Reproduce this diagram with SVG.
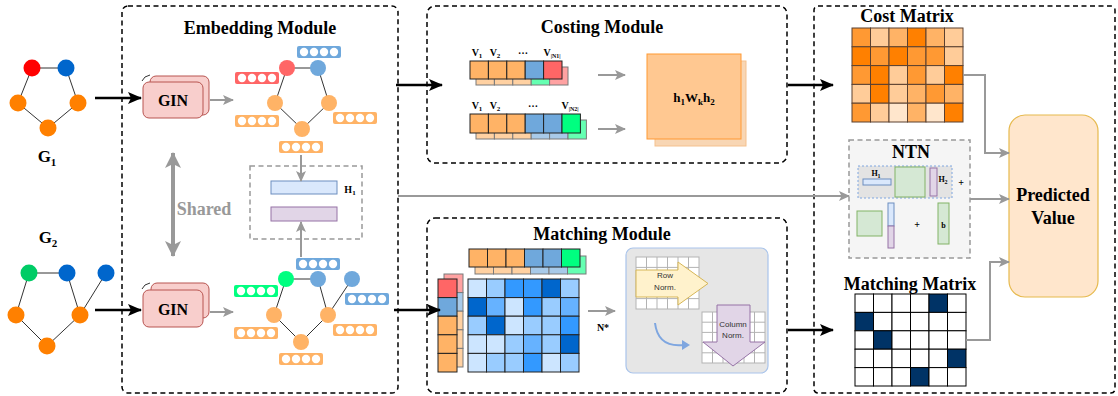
<svg xmlns="http://www.w3.org/2000/svg" xmlns:xlink="http://www.w3.org/1999/xlink" width="1118" height="396" viewBox="0 0 1118 396">
<style>
.mod{fill:none;stroke:#000;stroke-width:1.5;stroke-dasharray:5,3.5}
.title{font-family:"Liberation Serif",serif;font-weight:bold;font-size:18px;fill:#000;text-anchor:middle}
.lbl{font-family:"Liberation Serif",serif;font-weight:bold;fill:#000;text-anchor:middle}
.sans{font-family:"Liberation Sans",Arial,sans-serif;font-size:8px;fill:#333;text-anchor:middle}
.edge{stroke:#333;stroke-width:1}
.blk{stroke:#000;stroke-width:2.5;fill:none}
.gry{stroke:#999;stroke-width:2;fill:none}
.gin{fill:#f8cecc;stroke:#b85450;stroke-width:1}
.cell{stroke:#222;stroke-width:1}
.o1{fill:#ff8000}.o2{fill:#ff9933}.o3{fill:#ffb366}.o4{fill:#ffcc99}.o5{fill:#ffe6cc}
.b1{fill:#0066cc}.b2{fill:#3399ff}.b3{fill:#66b2ff}.b4{fill:#99ccff}.b5{fill:#cce5ff}
.vo{fill:#ffb366}.vb{fill:#6fa8dc}.vr{fill:#ff6666}.vg{fill:#00ff80}
.cm rect{stroke:#5a4030;stroke-width:1}
.mm rect{stroke:#000;stroke-width:1;fill:#fff}
.mm rect.d{fill:#003366}
.bm rect{stroke:#222;stroke-width:1}
.grid{fill:#fff;stroke:#b3b3b3;stroke-width:1}
.back{opacity:0.6}
</style>
<defs>
<marker id="ab" markerUnits="userSpaceOnUse" markerWidth="14" markerHeight="12" refX="13" refY="6" orient="auto">
<path d="M0,0 L14,6 L0,12 L3,6 z" fill="#000"/>
</marker>
<marker id="ag" markerUnits="userSpaceOnUse" markerWidth="11" markerHeight="10" refX="10" refY="5" orient="auto">
<path d="M0,0 L11,5 L0,10 L2.5,5 z" fill="#999"/>
</marker>
<marker id="as" markerUnits="userSpaceOnUse" markerWidth="16" markerHeight="16" refX="15" refY="8" orient="auto-start-reverse">
<path d="M0,0 L16,8 L0,16 L4,8 z" fill="#999"/>
</marker>
<g id="dots" fill="#fff">
<circle cx="7" cy="6" r="4.2"/><circle cx="17" cy="6" r="4.2"/><circle cx="27" cy="6" r="4.2"/><circle cx="37" cy="6" r="4.2"/>
</g>
</defs>

<!-- module frames -->
<g id="frames">
<rect class="mod" x="122" y="6" width="276" height="387" rx="6"/>
<rect class="mod" x="427" y="6" width="360" height="157" rx="8"/>
<rect class="mod" x="427" y="218" width="360" height="175" rx="8"/>
<rect class="mod" x="814" y="6" width="301" height="387" rx="4"/>
<text class="title" x="260" y="34">Embedding Module</text>
<text class="title" x="602" y="33">Costing Module</text>
<text class="title" x="602" y="240">Matching Module</text>
</g>

<!-- G1 -->
<g id="G1">
<path class="edge" d="M32,68 L66,68 M32,68 L18,103 M66,68 L78,103 M18,103 L48,128 M78,103 L48,128"/>
<circle cx="32" cy="68" r="8.5" fill="#ff0000"/>
<circle cx="66" cy="68" r="8.5" fill="#0066cc"/>
<circle cx="18" cy="103" r="8.5" fill="#ff8000"/>
<circle cx="78" cy="103" r="8.5" fill="#ff8000"/>
<circle cx="48" cy="128" r="8.5" fill="#ff8000"/>
<text class="lbl" x="47" y="162" font-size="17">G<tspan font-size="11" dy="4">1</tspan></text>
</g>

<!-- G2 -->
<g id="G2">
<path class="edge" d="M29,273 L67,273 M29,273 L16,315 M67,273 L80,315 M106,273 L80,315 M16,315 L47,346 M80,315 L47,346"/>
<circle cx="29" cy="273" r="8.5" fill="#00cc66"/>
<circle cx="67" cy="273" r="8.5" fill="#0066cc"/>
<circle cx="106" cy="273" r="8.5" fill="#0066cc"/>
<circle cx="16" cy="315" r="8.5" fill="#ff8000"/>
<circle cx="80" cy="315" r="8.5" fill="#ff8000"/>
<circle cx="47" cy="346" r="8.5" fill="#ff8000"/>
<text class="lbl" x="48" y="243" font-size="17">G<tspan font-size="11" dy="4">2</tspan></text>
</g>

<!-- GIN top -->
<g id="gin1">
<rect class="gin" x="150" y="76" width="59" height="39" rx="6"/>
<rect class="gin" x="143" y="82" width="60" height="36" rx="6"/>
<path d="M142,81 Q144,76 150,75" fill="none" stroke="#333" stroke-width="1"/>
<text class="lbl" x="173" y="106" font-size="16">GIN</text>
</g>
<!-- GIN bottom -->
<g id="gin2">
<rect class="gin" x="151" y="283" width="58" height="35" rx="6"/>
<rect class="gin" x="143" y="290" width="60" height="37" rx="6"/>
<path d="M142,289 Q144,284 150,283" fill="none" stroke="#333" stroke-width="1"/>
<text class="lbl" x="173" y="315" font-size="16">GIN</text>
</g>

<!-- embedded graph 1 -->
<g id="emb1">
<path class="edge" d="M287,68 L318,68 M287,68 L275,103 M318,68 L329,103 M275,103 L302,129 M329,103 L302,129"/>
<circle cx="287" cy="68" r="8" fill="#ff6666"/>
<circle cx="318" cy="68" r="8" fill="#6fa8dc"/>
<circle cx="275" cy="103" r="8" fill="#ffb366"/>
<circle cx="329" cy="103" r="8" fill="#ffb366"/>
<circle cx="302" cy="129" r="8" fill="#ffb366"/>
<rect class="vb" x="297" y="46" width="44" height="12" rx="2"/><use xlink:href="#dots" x="297" y="46"/>
<rect class="vr" x="235" y="72" width="44" height="12" rx="2"/><use xlink:href="#dots" x="235" y="72"/>
<rect class="vo" x="235" y="115" width="44" height="12" rx="2"/><use xlink:href="#dots" x="235" y="115"/>
<rect class="vo" x="333" y="112" width="44" height="12" rx="2"/><use xlink:href="#dots" x="333" y="112"/>
<rect class="vo" x="279" y="141" width="44" height="12" rx="2"/><use xlink:href="#dots" x="279" y="141"/>
</g>

<!-- embedded graph 2 -->
<g id="emb2">
<path class="edge" d="M286,279 L318,279 M286,279 L274,315 M318,279 L328,315 M352,279 L328,315 M274,315 L301,342 M328,315 L301,342"/>
<circle cx="286" cy="279" r="8" fill="#00ff80"/>
<circle cx="318" cy="279" r="8" fill="#6fa8dc"/>
<circle cx="352" cy="279" r="8" fill="#6fa8dc"/>
<circle cx="274" cy="315" r="8" fill="#ffb366"/>
<circle cx="328" cy="315" r="8" fill="#ffb366"/>
<circle cx="301" cy="342" r="8" fill="#ffb366"/>
<rect class="vb" x="296" y="258" width="44" height="12" rx="2"/><use xlink:href="#dots" x="296" y="258"/>
<rect class="vg" x="234" y="285" width="44" height="12" rx="2"/><use xlink:href="#dots" x="234" y="285"/>
<rect class="vb" x="345" y="293" width="44" height="12" rx="2"/><use xlink:href="#dots" x="345" y="293"/>
<rect class="vo" x="234" y="327" width="44" height="12" rx="2"/><use xlink:href="#dots" x="234" y="327"/>
<rect class="vo" x="333" y="324" width="44" height="12" rx="2"/><use xlink:href="#dots" x="333" y="324"/>
<rect class="vo" x="279" y="353" width="44" height="12" rx="2"/><use xlink:href="#dots" x="279" y="353"/>
</g>

<!-- pooled H -->
<g id="pool">
<rect x="250" y="166" width="112" height="73" fill="none" stroke="#999" stroke-width="1.5" stroke-dasharray="5,3.5"/>
<rect x="271" y="181" width="66" height="13" fill="#dae8fc" stroke="#6c8ebf" stroke-width="1"/>
<rect x="271" y="207" width="66" height="14" fill="#e1d5e7" stroke="#9673a6" stroke-width="1"/>
<text class="lbl" x="350" y="193" font-size="10">H<tspan font-size="7" dy="2">1</tspan></text>
</g>

<!-- shared -->
<g id="shared">
<text class="lbl" x="204" y="215" font-size="18" fill="#999" style="fill:#999">Shared</text>
</g>

<!-- costing content -->
<g id="cost-vecs">
<g class="back bm">
<rect class="vo" x="476" y="67" width="18.4" height="18"/><rect class="vo" x="494.4" y="67" width="18.4" height="18"/><rect class="vo" x="512.8" y="67" width="18.4" height="18"/><rect class="vg" x="531.2" y="67" width="18.4" height="18"/><rect class="vr" x="549.6" y="67" width="18.4" height="18"/>
</g>
<g class="bm">
<rect class="vo" x="470" y="61" width="18.4" height="18"/><rect class="vo" x="488.4" y="61" width="18.4" height="18"/><rect class="vo" x="506.8" y="61" width="18.4" height="18"/><rect class="vb" x="525.2" y="61" width="18.4" height="18"/><rect class="vr" x="543.6" y="61" width="18.4" height="18"/>
</g>
<g class="back bm">
<rect class="vo" x="476" y="120" width="18.4" height="19"/><rect class="vo" x="494.4" y="120" width="18.4" height="19"/><rect class="vo" x="512.8" y="120" width="18.4" height="19"/><rect class="vb" x="531.2" y="120" width="18.4" height="19"/><rect class="vb" x="549.6" y="120" width="18.4" height="19"/><rect class="vg" x="568" y="120" width="18.4" height="19"/>
</g>
<g class="bm">
<rect class="vo" x="470" y="114" width="18.4" height="19"/><rect class="vo" x="488.4" y="114" width="18.4" height="19"/><rect class="vo" x="506.8" y="114" width="18.4" height="19"/><rect class="vb" x="525.2" y="114" width="18.4" height="19"/><rect class="vb" x="543.6" y="114" width="18.4" height="19"/><rect class="vg" x="562" y="114" width="18.4" height="19"/>
</g>
<text class="lbl" font-size="10" x="477" y="56">V<tspan font-size="7" dy="2">1</tspan></text>
<text class="lbl" font-size="10" x="495" y="56">V<tspan font-size="7" dy="2">2</tspan></text>
<text class="lbl" font-size="10" x="523" y="54">…</text>
<text class="lbl" font-size="10" x="552" y="56">V<tspan font-size="6" dy="2">|N1|</tspan></text>
<text class="lbl" font-size="10" x="477" y="109">V<tspan font-size="7" dy="2">1</tspan></text>
<text class="lbl" font-size="10" x="495" y="109">V<tspan font-size="7" dy="2">2</tspan></text>
<text class="lbl" font-size="10" x="533" y="107">…</text>
<text class="lbl" font-size="10" x="570" y="109">V<tspan font-size="6" dy="2">|N2|</tspan></text>
</g>
<g id="hwh">
<rect x="655" y="61" width="91" height="85" fill="#f8d6b4" stroke="#f5c18e" stroke-width="1"/>
<rect x="647" y="54" width="94" height="85" fill="#ffc891" stroke="#ff9933" stroke-width="1"/>
<text class="lbl" x="694" y="102" font-size="13">h<tspan font-size="9" dy="3">1</tspan><tspan dy="-3">W</tspan><tspan font-size="9" dy="3">k</tspan><tspan dy="-3">h</tspan><tspan font-size="9" dy="3">2</tspan></text>
</g>

<!-- matching content -->
<g id="match-vecs">
<g class="back bm">
<rect class="vo" x="475" y="256" width="18.5" height="18"/><rect class="vo" x="493.5" y="256" width="18.5" height="18"/><rect class="vo" x="512" y="256" width="18.5" height="18"/><rect class="vb" x="530.5" y="256" width="18.5" height="18"/><rect class="vb" x="549" y="256" width="18.5" height="18"/><rect class="vg" x="567.5" y="256" width="18.5" height="18"/>
</g>
<g class="bm">
<rect class="vo" x="469" y="249" width="18.5" height="18"/><rect class="vo" x="487.5" y="249" width="18.5" height="18"/><rect class="vo" x="506" y="249" width="18.5" height="18"/><rect class="vb" x="524.5" y="249" width="18.5" height="18"/><rect class="vb" x="543" y="249" width="18.5" height="18"/><rect class="vg" x="561.5" y="249" width="18.5" height="18"/>
</g>
<g class="back bm">
<rect class="vr" x="444" y="274" width="19" height="18.6"/><rect class="vb" x="444" y="292.6" width="19" height="18.6"/><rect class="vo" x="444" y="311.2" width="19" height="18.6"/><rect class="vo" x="444" y="329.8" width="19" height="18.6"/><rect class="vo" x="444" y="348.4" width="19" height="18.6"/>
</g>
<g class="bm">
<rect class="vr" x="438" y="279" width="19" height="18.6"/><rect class="vb" x="438" y="297.6" width="19" height="18.6"/><rect class="vo" x="438" y="316.2" width="19" height="18.6"/><rect class="vo" x="438" y="334.8" width="19" height="18.6"/><rect class="vo" x="438" y="353.4" width="19" height="18.6"/>
</g>
</g>
<g id="sim-matrix" class="bm">
<rect class="b5" x="468" y="279" width="18.5" height="18.6"/><rect class="b4" x="486.5" y="279" width="18.5" height="18.6"/><rect class="b2" x="505" y="279" width="18.5" height="18.6"/><rect class="b2" x="523.5" y="279" width="18.5" height="18.6"/><rect class="b1" x="542" y="279" width="18.5" height="18.6"/><rect class="b4" x="560.5" y="279" width="18.5" height="18.6"/>
<rect class="b1" x="468" y="297.6" width="18.5" height="18.6"/><rect class="b3" x="486.5" y="297.6" width="18.5" height="18.6"/><rect class="b5" x="505" y="297.6" width="18.5" height="18.6"/><rect class="b2" x="523.5" y="297.6" width="18.5" height="18.6"/><rect class="b4" x="542" y="297.6" width="18.5" height="18.6"/><rect class="b3" x="560.5" y="297.6" width="18.5" height="18.6"/>
<rect class="b4" x="468" y="316.2" width="18.5" height="18.6"/><rect class="b1" x="486.5" y="316.2" width="18.5" height="18.6"/><rect class="b5" x="505" y="316.2" width="18.5" height="18.6"/><rect class="b4" x="523.5" y="316.2" width="18.5" height="18.6"/><rect class="b4" x="542" y="316.2" width="18.5" height="18.6"/><rect class="b2" x="560.5" y="316.2" width="18.5" height="18.6"/>
<rect class="b5" x="468" y="334.8" width="18.5" height="18.6"/><rect class="b5" x="486.5" y="334.8" width="18.5" height="18.6"/><rect class="b4" x="505" y="334.8" width="18.5" height="18.6"/><rect class="b3" x="523.5" y="334.8" width="18.5" height="18.6"/><rect class="b4" x="542" y="334.8" width="18.5" height="18.6"/><rect class="b1" x="560.5" y="334.8" width="18.5" height="18.6"/>
<rect class="b5" x="468" y="353.4" width="18.5" height="18.6"/><rect class="b4" x="486.5" y="353.4" width="18.5" height="18.6"/><rect class="b4" x="505" y="353.4" width="18.5" height="18.6"/><rect class="b2" x="523.5" y="353.4" width="18.5" height="18.6"/><rect class="b5" x="542" y="353.4" width="18.5" height="18.6"/><rect class="b4" x="560.5" y="353.4" width="18.5" height="18.6"/>
</g>
<text class="lbl" x="603" y="331" font-size="10">N*</text>

<!-- normalization panel -->
<g id="norm">
<rect x="626" y="248" width="142" height="125" rx="7" fill="#e6e6e6" stroke="#a9c4eb" stroke-width="1.2"/>
<rect class="grid" x="636" y="257" width="63" height="52"/>
<path d="M646.5,257V309M657,257V309M667.5,257V309M678,257V309M688.5,257V309M636,267.4H699M636,277.8H699M636,288.2H699M636,298.6H699" stroke="#b3b3b3" stroke-width="1" fill="none"/>
<polygon points="636,270 678,270 678,262 708,283.5 678,305 678,297 636,297" fill="#fff2cc" stroke="#d6b656" stroke-width="1"/>
<text class="sans" x="665" y="278">Row</text>
<text class="sans" x="665" y="290">Norm.</text>
<rect class="grid" x="702" y="312" width="63" height="51"/>
<path d="M712.5,312V363M723,312V363M733.5,312V363M744,312V363M754.5,312V363M702,322.2H765M702,332.4H765M702,342.6H765M702,352.8H765" stroke="#b3b3b3" stroke-width="1" fill="none"/>
<polygon points="717,305 750,305 750,342 765,342 733,366 703,342 717,342" fill="#e1d5e7" stroke="#9673a6" stroke-width="1"/>
<text class="sans" x="733" y="327">Column</text>
<text class="sans" x="733" y="338">Norm.</text>
<path d="M655,323 Q658,348 684,345" fill="none" stroke="#7ea6e0" stroke-width="2"/>
<path d="M682,340 L690,345 L682,350 z" fill="#7ea6e0"/>
</g>

<!-- cost matrix -->
<g id="cost-matrix">
<text class="title" x="907" y="22">Cost Matrix</text>
<g class="cm">
<rect class="o2" x="852" y="28" width="18.5" height="18.8"/><rect class="o4" x="870.5" y="28" width="18.5" height="18.8"/><rect class="o3" x="889" y="28" width="18.5" height="18.8"/><rect class="o1" x="907.5" y="28" width="18.5" height="18.8"/><rect class="o3" x="926" y="28" width="18.5" height="18.8"/><rect class="o4" x="944.5" y="28" width="18.5" height="18.8"/>
<rect class="o1" x="852" y="46.8" width="18.5" height="18.8"/><rect class="o2" x="870.5" y="46.8" width="18.5" height="18.8"/><rect class="o1" x="889" y="46.8" width="18.5" height="18.8"/><rect class="o2" x="907.5" y="46.8" width="18.5" height="18.8"/><rect class="o2" x="926" y="46.8" width="18.5" height="18.8"/><rect class="o4" x="944.5" y="46.8" width="18.5" height="18.8"/>
<rect class="o2" x="852" y="65.6" width="18.5" height="18.8"/><rect class="o1" x="870.5" y="65.6" width="18.5" height="18.8"/><rect class="o4" x="889" y="65.6" width="18.5" height="18.8"/><rect class="o2" x="907.5" y="65.6" width="18.5" height="18.8"/><rect class="o4" x="926" y="65.6" width="18.5" height="18.8"/><rect class="o1" x="944.5" y="65.6" width="18.5" height="18.8"/>
<rect class="o4" x="852" y="84.4" width="18.5" height="18.8"/><rect class="o1" x="870.5" y="84.4" width="18.5" height="18.8"/><rect class="o4" x="889" y="84.4" width="18.5" height="18.8"/><rect class="o3" x="907.5" y="84.4" width="18.5" height="18.8"/><rect class="o2" x="926" y="84.4" width="18.5" height="18.8"/><rect class="o3" x="944.5" y="84.4" width="18.5" height="18.8"/>
<rect class="o2" x="852" y="103.2" width="18.5" height="18.8"/><rect class="o4" x="870.5" y="103.2" width="18.5" height="18.8"/><rect class="o5" x="889" y="103.2" width="18.5" height="18.8"/><rect class="o3" x="907.5" y="103.2" width="18.5" height="18.8"/><rect class="o5" x="926" y="103.2" width="18.5" height="18.8"/><rect class="o1" x="944.5" y="103.2" width="18.5" height="18.8"/>
</g>
</g>

<!-- NTN -->
<g id="ntn">
<rect x="849" y="140" width="121" height="118" fill="#f5f5f5" stroke="#999" stroke-width="1.5" stroke-dasharray="5,3.5"/>
<text class="title" x="911" y="158">NTN</text>
<rect x="858" y="166" width="94" height="32" fill="#e3e3e3" stroke="#7ea6e0" stroke-width="1" stroke-dasharray="2,2"/>
<rect x="863" y="179" width="28" height="6" fill="#dae8fc" stroke="#6c8ebf" stroke-width="1"/>
<text class="lbl" x="876" y="176" font-size="8">H<tspan font-size="6" dy="2">1</tspan></text>
<rect x="895" y="167" width="30" height="30" fill="#d5e8d4" stroke="#82b366" stroke-width="1"/>
<rect x="930" y="168" width="7" height="28" fill="#e1d5e7" stroke="#9673a6" stroke-width="1"/>
<text class="lbl" x="943" y="182" font-size="8">H<tspan font-size="6" dy="2">2</tspan></text>
<text class="lbl" x="961" y="186" font-size="10">+</text>
<rect x="857" y="211" width="25" height="25" fill="#d5e8d4" stroke="#82b366" stroke-width="1"/>
<rect x="888" y="203" width="6" height="23" fill="#dae8fc" stroke="#6c8ebf" stroke-width="1"/>
<rect x="888" y="226" width="6" height="22" fill="#e1d5e7" stroke="#9673a6" stroke-width="1"/>
<text class="lbl" x="917" y="228" font-size="10">+</text>
<rect x="938" y="203" width="11" height="41" fill="#d5e8d4" stroke="#82b366" stroke-width="1"/>
<text class="lbl" x="943.5" y="228" font-size="8">b</text>
</g>

<!-- matching matrix -->
<g id="matching-matrix">
<text class="title" x="910" y="290">Matching Matrix</text>
<g class="mm">
<rect x="855" y="294" width="18.5" height="18.4"/><rect x="873.5" y="294" width="18.5" height="18.4"/><rect x="892" y="294" width="18.5" height="18.4"/><rect x="910.5" y="294" width="18.5" height="18.4"/><rect class="d" x="929" y="294" width="18.5" height="18.4"/><rect x="947.5" y="294" width="18.5" height="18.4"/>
<rect class="d" x="855" y="312.4" width="18.5" height="18.4"/><rect x="873.5" y="312.4" width="18.5" height="18.4"/><rect x="892" y="312.4" width="18.5" height="18.4"/><rect x="910.5" y="312.4" width="18.5" height="18.4"/><rect x="929" y="312.4" width="18.5" height="18.4"/><rect x="947.5" y="312.4" width="18.5" height="18.4"/>
<rect x="855" y="330.8" width="18.5" height="18.4"/><rect class="d" x="873.5" y="330.8" width="18.5" height="18.4"/><rect x="892" y="330.8" width="18.5" height="18.4"/><rect x="910.5" y="330.8" width="18.5" height="18.4"/><rect x="929" y="330.8" width="18.5" height="18.4"/><rect x="947.5" y="330.8" width="18.5" height="18.4"/>
<rect x="855" y="349.2" width="18.5" height="18.4"/><rect x="873.5" y="349.2" width="18.5" height="18.4"/><rect x="892" y="349.2" width="18.5" height="18.4"/><rect x="910.5" y="349.2" width="18.5" height="18.4"/><rect x="929" y="349.2" width="18.5" height="18.4"/><rect class="d" x="947.5" y="349.2" width="18.5" height="18.4"/>
<rect x="855" y="367.6" width="18.5" height="18.4"/><rect x="873.5" y="367.6" width="18.5" height="18.4"/><rect x="892" y="367.6" width="18.5" height="18.4"/><rect class="d" x="910.5" y="367.6" width="18.5" height="18.4"/><rect x="929" y="367.6" width="18.5" height="18.4"/><rect x="947.5" y="367.6" width="18.5" height="18.4"/>
</g>
</g>

<!-- predicted value -->
<g id="predicted">
<rect x="1009" y="115" width="89" height="182" rx="16" fill="#ffe6cc" stroke="#e6b94d" stroke-width="1.2"/>
<text class="title" x="1053" y="201">Predicted</text>
<text class="title" x="1053" y="224">Value</text>
</g>

<!-- connectors -->
<g id="connectors">
<path class="blk" d="M95,98 H141" marker-end="url(#ab)"/>
<path class="blk" d="M95,310 H141" marker-end="url(#ab)"/>
<path class="blk" d="M396,85 H442" marker-end="url(#ab)"/>
<path class="blk" d="M394,310 H440" marker-end="url(#ab)"/>
<path class="blk" d="M788,85 H833" marker-end="url(#ab)"/>
<path class="blk" d="M788,330 H833" marker-end="url(#ab)"/>
<path class="gry" d="M210,100 H233" marker-end="url(#ag)"/>
<path class="gry" d="M210,312 H233" marker-end="url(#ag)"/>
<path class="gry" d="M598,75 H625" marker-end="url(#ag)"/>
<path class="gry" d="M598,129 H625" marker-end="url(#ag)"/>
<path class="gry" d="M588,311 H615" marker-end="url(#ag)"/>
<path class="gry" d="M301,155 V181" marker-end="url(#ag)"/>
<path class="gry" d="M301,257 V222" marker-end="url(#ag)"/>
<path class="gry" d="M398,196 H849" marker-end="url(#ag)"/>
<path class="gry" d="M963,75 H985 V153 H1009" marker-end="url(#ag)"/>
<path class="gry" d="M970,199 H1009" marker-end="url(#ag)"/>
<path class="gry" d="M966,340 H990 V262 H1009" marker-end="url(#ag)"/>
<path d="M173,153 V256" stroke="#999" stroke-width="4" fill="none" marker-start="url(#as)" marker-end="url(#as)"/>
</g>
</svg>
